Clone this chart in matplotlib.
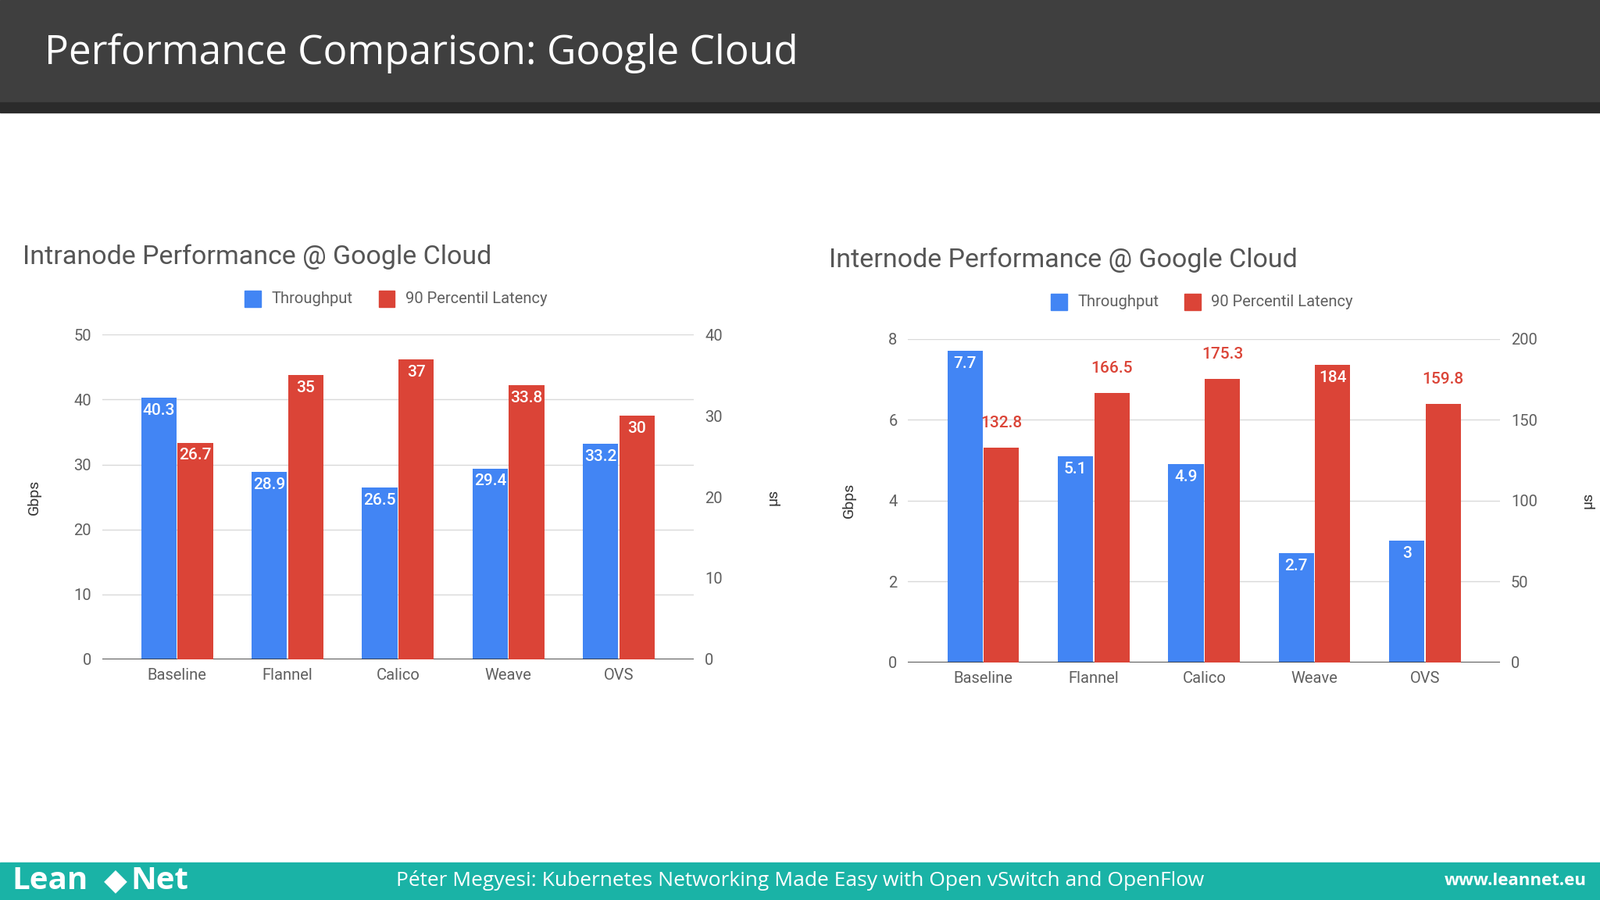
import matplotlib
matplotlib.use("Agg")
import matplotlib.pyplot as plt
from matplotlib.patches import Rectangle
import numpy as np

categories = ["Baseline", "Flannel", "Calico", "Weave", "OVS"]
intra_throughput = [40.3, 28.9, 26.5, 29.4, 33.2]
intra_latency = [26.7, 35, 37, 33.8, 30]
inter_throughput = [7.7, 5.1, 4.9, 2.7, 3]
inter_latency = [132.8, 166.5, 175.3, 184, 159.8]
inter_latency_outside = [True, True, True, False, True]

BLUE = "#4285F4"
RED = "#DB4437"
GRID = "#d9d9d9"
TXT = "#5f5f5f"

fig = plt.figure(figsize=(20.48, 11.52), dpi=100)
W, H = 1568, 882
def fx(x): return x / W
def fy(y): return 1 - y / H

fig.patches.append(Rectangle((0, fy(100)), 1, 100 / H, transform=fig.transFigure, color="#3f3f3f", zorder=0))
fig.patches.append(Rectangle((0, fy(110)), 1, 10 / H, transform=fig.transFigure, color="#2b2b2b", zorder=0))
fig.patches.append(Rectangle((0, 0), 1, 37 / H, transform=fig.transFigure, color="#1ab3a6", zorder=0))
fig.text(fx(44), fy(52), "Performance Comparison: Google Cloud", color="white", fontsize=37,
         family="Open Sans", va="center", ha="left")
fig.text(fx(12), fy(863), "Lean", color="white", fontsize=29, weight="bold", family="Open Sans", va="center")
fig.text(fx(128), fy(863), "Net", color="white", fontsize=29, weight="bold", family="Open Sans", va="center")
fig.text(fx(113), fy(863), "◆", color="white", fontsize=28, va="center", ha="center")
fig.text(fx(784), fy(863), "Péter Megyesi: Kubernetes Networking Made Easy with Open vSwitch and OpenFlow",
         color="white", fontsize=19, family="Open Sans", va="center", ha="center")
fig.text(fx(1555), fy(863), "www.leannet.eu", color="white", fontsize=16, weight="bold",
         family="Open Sans", va="center", ha="right")

def chart(rect, title, tp, lat, ymax1, yticks1, ymax2, yticks2, title_y, legend_y, outside=None):
    ax = fig.add_axes(rect)
    ax2 = ax.twinx()
    x = np.arange(len(categories))
    w = 0.32
    b1 = ax.bar(x - w / 2 - 0.005, tp, w, color=BLUE, zorder=3)
    b2 = ax2.bar(x + w / 2 + 0.005, lat, w, color=RED, zorder=3)
    ax.set_ylim(0, ymax1); ax.set_yticks(yticks1)
    ax2.set_ylim(0, ymax2); ax2.set_yticks(yticks2)
    ax.set_xlim(-0.68, 4.68)
    ax.set_xticks(x); ax.set_xticklabels(categories)
    ax.grid(axis="y", color=GRID, lw=1, zorder=0)
    for a in (ax, ax2):
        for s in a.spines.values():
            s.set_visible(False)
        a.tick_params(length=0, labelsize=14.5, colors=TXT, labelfontfamily="Roboto")
    ax.axhline(0, color="#333333", lw=1.2, zorder=4)
    ax.tick_params(axis="y", pad=10)
    ax2.tick_params(axis="y", pad=10)
    ax.tick_params(axis="x", pad=8)
    ax.set_ylabel("Gbps", color="#333333", fontsize=14, family="Roboto", labelpad=30)
    ax2.set_ylabel("µs", color="#333333", fontsize=14, family="Roboto", labelpad=40)
    ax2.set_zorder(ax.get_zorder() + 1); ax.patch.set_visible(False)
    for r, v in zip(b1, tp):
        ax.annotate(f"{v:g}", (r.get_x() + r.get_width() / 2, r.get_height()), xytext=(0, -5),
                    textcoords="offset points", ha="center", va="top", color="white",
                    fontsize=15, family="Roboto", weight="medium", zorder=5)
    for i, (r, v) in enumerate(zip(b2, lat)):
        if outside is not None and outside[i]:
            ax2.annotate(f"{v:g}", (r.get_x() + r.get_width() / 2, r.get_height()), xytext=(0, 16),
                         textcoords="offset points", ha="center", va="bottom", color=RED,
                         fontsize=15, family="Roboto", weight="medium", zorder=5)
        else:
            ax2.annotate(f"{v:g}", (r.get_x() + r.get_width() / 2, r.get_height()), xytext=(0, -5),
                         textcoords="offset points", ha="center", va="top", color="white",
                         fontsize=15, family="Roboto", weight="medium", zorder=5)
    left = rect[0]
    fig.text(left - fx(78), title_y, title, fontsize=24.5, color="#555555", family="Roboto", va="center")
    cx = rect[0] + rect[2] / 2 - fx(60)
    fig.patches.append(Rectangle((cx - fx(90), legend_y - 8 / H), 16 / W, 16 / H,
                                 transform=fig.transFigure, color=BLUE))
    fig.text(cx - fx(64), legend_y, "Throughput", fontsize=14.5, color=TXT, family="Roboto", va="center")
    fig.patches.append(Rectangle((cx + fx(41), legend_y - 8 / H), 16 / W, 16 / H,
                                 transform=fig.transFigure, color=RED))
    fig.text(cx + fx(67), legend_y, "90 Percentil Latency", fontsize=14.5, color=TXT, family="Roboto", va="center")
    return ax

chart([fx(100), fy(646), fx(580), (646 - 328) / H], "Intranode Performance @ Google Cloud",
      intra_throughput, intra_latency, 50, [0, 10, 20, 30, 40, 50], 40, [0, 10, 20, 30, 40],
      fy(252), fy(293))
chart([fx(890), fy(649), fx(580), (649 - 332) / H], "Internode Performance @ Google Cloud",
      inter_throughput, inter_latency, 8, [0, 2, 4, 6, 8], 200, [0, 50, 100, 150, 200],
      fy(255), fy(296), inter_latency_outside)

fig.savefig("out.png", dpi=100, facecolor="white")
